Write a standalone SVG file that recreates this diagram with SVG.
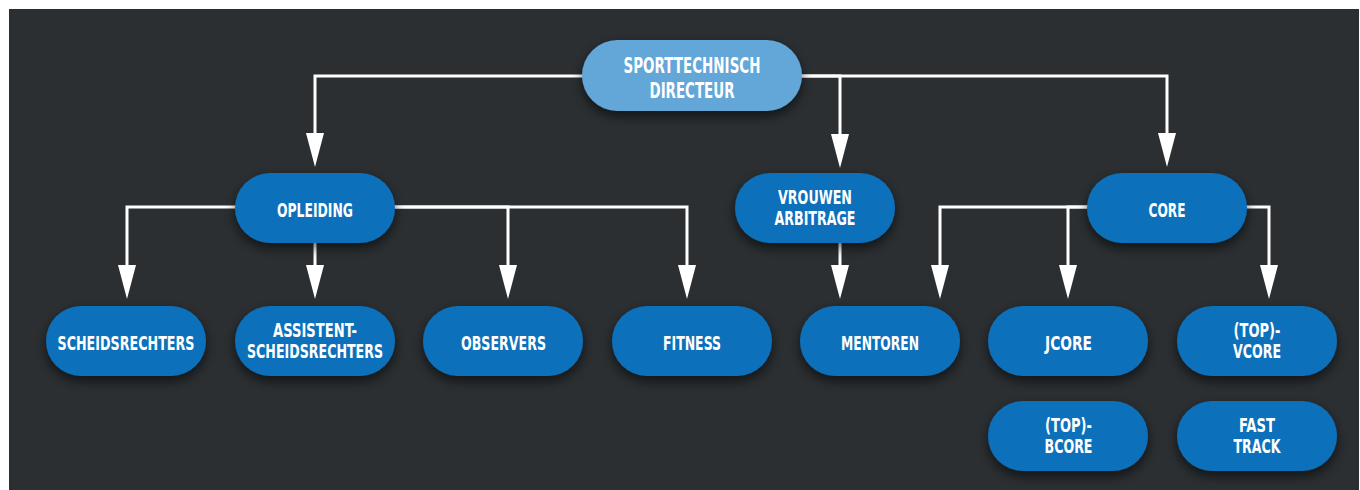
<svg xmlns="http://www.w3.org/2000/svg" width="1360" height="490" viewBox="0 0 1360 490">
<style>
.node rect{fill:#0c6fba;filter:url(#sh)}
#n-top rect{fill:#64a6d8}
.node text{font-family:"DejaVu Sans Condensed","DejaVu Sans",sans-serif;font-weight:bold;font-size:20px;fill:#ffffff;text-anchor:middle}
.node text.two{font-size:19px}
#n-top text{font-size:21.5px}
.conn path{fill:none;stroke:#ffffff;stroke-width:3;marker-end:url(#ah)}
</style>
<defs>
<filter id="sh" x="-20%" y="-30%" width="140%" height="180%">
<feDropShadow dx="0" dy="5" stdDeviation="6" flood-color="#000000" flood-opacity="0.6"/>
</filter>
<marker id="ah" viewBox="0 0 34 18" refX="0" refY="9" markerWidth="34" markerHeight="18" markerUnits="userSpaceOnUse" orient="auto">
<path d="M0,0 L34,9 L0,18 Z" fill="#ffffff"/>
</marker>
</defs>
<rect x="0" y="0" width="1360" height="490" fill="#ffffff"/>
<rect x="9" y="9" width="1350" height="481" fill="#2b2f32"/>
<g id="connectors" class="conn">
<path d="M690,76 H315 V133"/>
<path d="M690,76 H840 V134"/>
<path d="M690,76 H1167 V133"/>
<path d="M315,207 H127 V265"/>
<path d="M315,230 V265"/>
<path d="M315,207 H508 V265"/>
<path d="M315,207 H687 V265"/>
<path d="M840,230 V265"/>
<path d="M1167,207 H940 V265"/>
<path d="M1167,207 H1068 V265"/>
<path d="M1167,207 H1269 V265"/>
</g>
<g id="n-top" class="node"><rect x="582" y="40" width="220" height="71" rx="35.5"/>
<text x="692" y="72.5" textLength="137" lengthAdjust="spacingAndGlyphs">SPORTTECHNISCH</text>
<text x="692" y="97.5" textLength="85" lengthAdjust="spacingAndGlyphs">DIRECTEUR</text></g>
<g id="n-opleiding" class="node"><rect x="235" y="173" width="160" height="70" rx="35"/>
<text x="315" y="217" textLength="76" lengthAdjust="spacingAndGlyphs">OPLEIDING</text></g>
<g id="n-vrouwen" class="node"><rect x="735" y="173" width="160" height="70" rx="35"/>
<text class="two" x="815" y="204" textLength="74" lengthAdjust="spacingAndGlyphs">VROUWEN</text>
<text class="two" x="815" y="225" textLength="81" lengthAdjust="spacingAndGlyphs">ARBITRAGE</text></g>
<g id="n-core" class="node"><rect x="1087" y="173" width="160" height="70" rx="35"/>
<text x="1167" y="217" textLength="37" lengthAdjust="spacingAndGlyphs">CORE</text></g>
<g id="n-scheids" class="node"><rect x="46" y="306" width="160" height="70" rx="35"/>
<text x="126" y="350" textLength="137" lengthAdjust="spacingAndGlyphs">SCHEIDSRECHTERS</text></g>
<g id="n-assistent" class="node"><rect x="235" y="306" width="160" height="70" rx="35"/>
<text class="two" x="315" y="337" textLength="84" lengthAdjust="spacingAndGlyphs">ASSISTENT-</text>
<text class="two" x="315" y="358" textLength="136" lengthAdjust="spacingAndGlyphs">SCHEIDSRECHTERS</text></g>
<g id="n-observers" class="node"><rect x="423" y="306" width="160" height="70" rx="35"/>
<text x="503.5" y="350" textLength="85" lengthAdjust="spacingAndGlyphs">OBSERVERS</text></g>
<g id="n-fitness" class="node"><rect x="612" y="306" width="160" height="70" rx="35"/>
<text x="692" y="350" textLength="58" lengthAdjust="spacingAndGlyphs">FITNESS</text></g>
<g id="n-mentoren" class="node"><rect x="800" y="306" width="160" height="70" rx="35"/>
<text x="880" y="350" textLength="78" lengthAdjust="spacingAndGlyphs">MENTOREN</text></g>
<g id="n-jcore" class="node"><rect x="988" y="306" width="160" height="70" rx="35"/>
<text x="1068.5" y="350" textLength="47" lengthAdjust="spacingAndGlyphs">JCORE</text></g>
<g id="n-vcore" class="node"><rect x="1177" y="306" width="160" height="70" rx="35"/>
<text class="two" x="1257" y="337" textLength="47" lengthAdjust="spacingAndGlyphs">(TOP)-</text>
<text class="two" x="1257" y="358" textLength="48" lengthAdjust="spacingAndGlyphs">VCORE</text></g>
<g id="n-bcore" class="node"><rect x="988" y="401" width="160" height="70" rx="35"/>
<text class="two" x="1068.5" y="431.5" textLength="47" lengthAdjust="spacingAndGlyphs">(TOP)-</text>
<text class="two" x="1068.5" y="452.5" textLength="48" lengthAdjust="spacingAndGlyphs">BCORE</text></g>
<g id="n-fasttrack" class="node"><rect x="1177" y="401" width="160" height="70" rx="35"/>
<text class="two" x="1257" y="431.5" textLength="36" lengthAdjust="spacingAndGlyphs">FAST</text>
<text class="two" x="1257" y="452.5" textLength="47" lengthAdjust="spacingAndGlyphs">TRACK</text></g>
</svg>
